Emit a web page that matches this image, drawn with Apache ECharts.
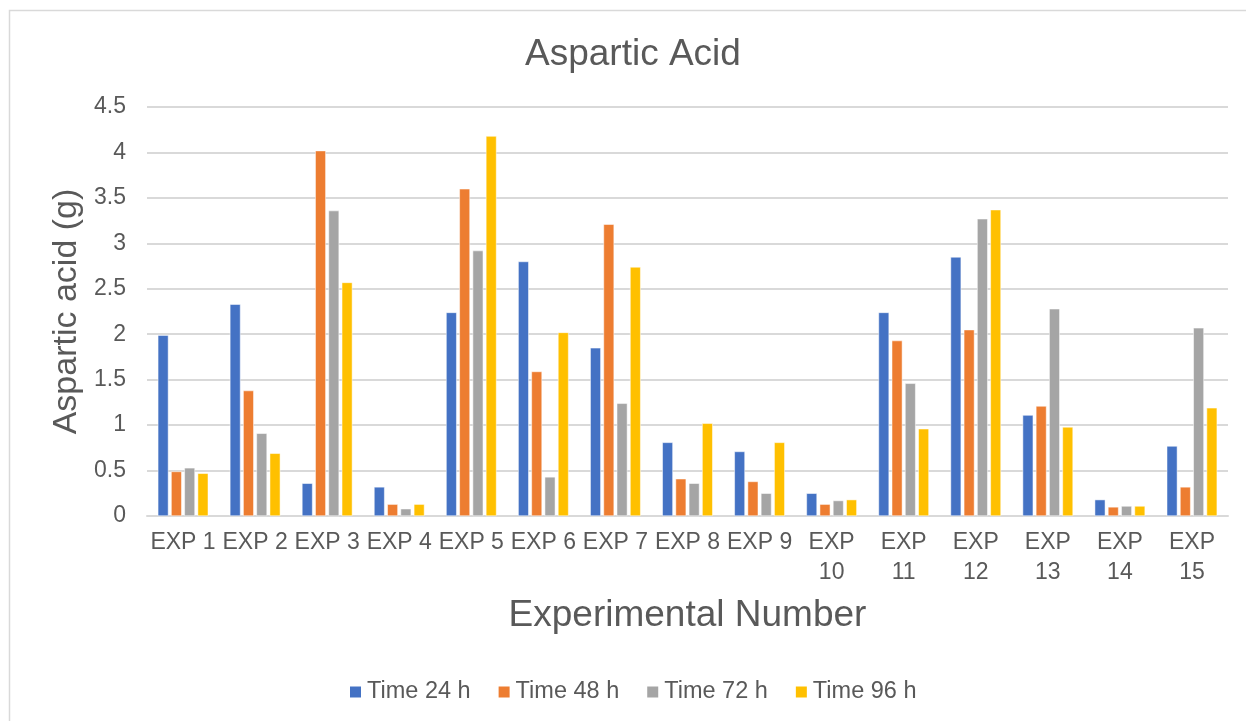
<!DOCTYPE html>
<html>
<head>
<meta charset="utf-8">
<script src="https://cdn.jsdelivr.net/npm/echarts@6/dist/echarts.min.js"></script>
<style>html,body{margin:0;padding:0;background:#fff}#c{width:1246px;height:721px}</style>
</head>
<body>
<div id="c"></div>
<script>
const categories = ['EXP 1','EXP 2','EXP 3','EXP 4','EXP 5','EXP 6','EXP 7','EXP 8','EXP 9','EXP 10','EXP 11','EXP 12','EXP 13','EXP 14','EXP 15'];
const time24 = [1.99, 2.33, 0.36, 0.32, 2.24, 2.80, 1.85, 0.81, 0.71, 0.25, 2.24, 2.85, 1.11, 0.18, 0.77];
const time48 = [0.49, 1.38, 4.02, 0.13, 3.60, 1.59, 3.21, 0.41, 0.38, 0.13, 1.93, 2.05, 1.21, 0.10, 0.32];
const time72 = [0.53, 0.91, 3.36, 0.08, 2.92, 0.43, 1.24, 0.36, 0.25, 0.17, 1.46, 3.27, 2.28, 0.11, 2.07];
const time96 = [0.47, 0.69, 2.57, 0.13, 4.18, 2.02, 2.74, 1.02, 0.81, 0.18, 0.96, 3.37, 0.98, 0.11, 1.19];
const seriesNames = ['Time 24 h','Time 48 h','Time 72 h','Time 96 h'];
const colors = ['#4472C4','#ED7D31','#A5A5A5','#FFC000'];
const yTicks = {min: 0, max: 4.5, interval: 0.5};

const font = '"Liberation Sans", Arial, sans-serif';
const txt = '#595959';
const chart = echarts.init(document.getElementById('c'));
const data = [time24, time48, time72, time96];
chart.setOption({
  animation: false,
  color: colors,
  graphic: [{type:'rect', shape:{x:9.5,y:10.5,width:1300,height:800}, style:{fill:'none', stroke:'#d9d9d9', lineWidth:1.5}, silent:true}],
  title: {text:'Aspartic Acid', left:520, top:31, textStyle:{fontFamily:font, fontSize:37, fontWeight:'normal', color:txt}},
  legend: {top:675, left:343, itemWidth:13, itemHeight:13, itemGap:26, icon:'rect',
    textStyle:{fontFamily:font, fontSize:23.5, color:txt}},
  grid: {left:147, right:18, top:107, bottom:205},
  xAxis: {type:'category', data:categories,
    axisLine:{lineStyle:{color:'#d9d9d9', width:2}}, axisTick:{show:false},
    axisLabel:{fontFamily:font, fontSize:23, color:txt, margin:12, lineHeight:30, interval:0,
      formatter: v => v.length > 5 ? v.replace(' ','\n') : v},
    name:'Experimental Number', nameLocation:'middle', nameGap:81,
    nameTextStyle:{fontFamily:font, fontSize:37, color:txt}},
  yAxis: {type:'value', min:yTicks.min, max:yTicks.max, interval:yTicks.interval,
    axisLine:{show:false}, axisTick:{show:false},
    splitLine:{lineStyle:{color:'#d9d9d9', width:2}},
    axisLabel:{fontFamily:font, fontSize:23, color:txt, margin:21},
    name:'Aspartic acid (g)', nameLocation:'middle', nameGap:62,
    nameTextStyle:{fontFamily:font, fontSize:34, color:txt}},
  series: seriesNames.map((n,i) => ({
    name:n, type:'bar', data:data[i], barGap:'25%', barCategoryGap:'30%',
    itemStyle:{color:colors[i], borderColor:'#fff', borderWidth:0.5}
  }))
});
</script>
</body>
</html>
